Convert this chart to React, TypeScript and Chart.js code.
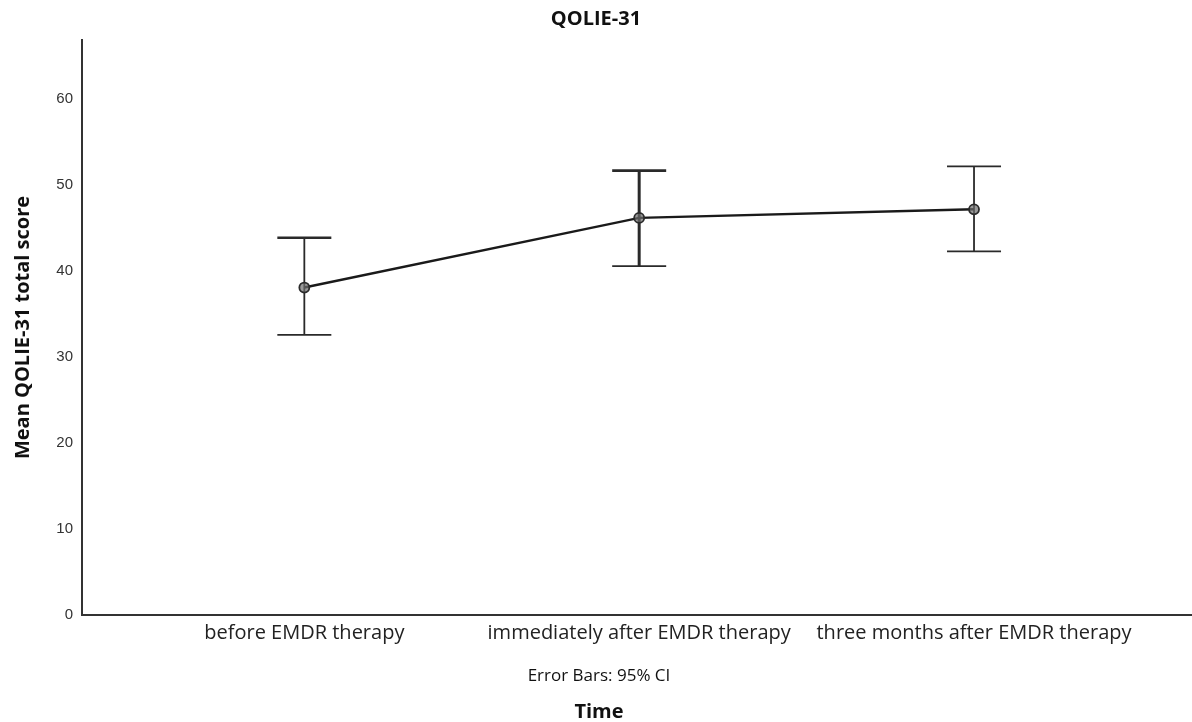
import React, { useEffect, useRef } from "react";
import { Chart, registerables } from "chart.js";

Chart.register(...registerables);

const categories = [
  "before EMDR therapy",
  "immediately after EMDR therapy",
  "three months after EMDR therapy",
];
const positions = [1, 2, 3];
const means = [38.1, 46.2, 47.2];
const ciLower = [32.6, 40.6, 42.3];
const ciUpper = [43.9, 51.7, 52.2];
const yTicks = [0, 10, 20, 30, 40, 50, 60];

const chartTitle = "QOLIE-31";
const yTitle = "Mean QOLIE-31 total score";
const xTitle = "Time";
const footnote = "Error Bars: 95% CI";

const errorBarPlugin = {
  id: "errorBars",
  beforeDatasetsDraw(chart: any) {
    const { ctx, scales } = chart;
    const xs = scales.x;
    const ys = scales.y;
    ctx.save();
    ctx.strokeStyle = "#2a2a2a";
    positions.forEach((p, i) => {
      const x = xs.getPixelForValue(p);
      const yl = ys.getPixelForValue(ciLower[i]);
      const yu = ys.getPixelForValue(ciUpper[i]);
      const half = 27;
      ctx.lineWidth = i === 1 ? 3 : 1.8;
      ctx.beginPath();
      ctx.moveTo(x, yl);
      ctx.lineTo(x, yu);
      ctx.stroke();
      ctx.lineWidth = i === 2 ? 1.8 : 2.6;
      ctx.beginPath();
      ctx.moveTo(x - half, yu);
      ctx.lineTo(x + half, yu);
      ctx.stroke();
      ctx.lineWidth = 1.8;
      ctx.beginPath();
      ctx.moveTo(x - half, yl);
      ctx.lineTo(x + half, yl);
      ctx.stroke();
    });
    ctx.restore();
  },
  afterDraw(chart: any) {
    const { ctx } = chart;
    const cx = chart.width / 2 + 3;
    ctx.save();
    ctx.fillStyle = "#111";
    ctx.textAlign = "center";
    ctx.textBaseline = "middle";
    ctx.font = "17px 'Open Sans'";
    ctx.fillText(footnote, cx, 676);
    ctx.font = "bold 20px 'Open Sans'";
    ctx.fillText(xTitle, cx, 712);
    ctx.restore();
  },
};

export default function App() {
  const ref = useRef<HTMLCanvasElement | null>(null);
  useEffect(() => {
    if (!ref.current) return;
    const chart = new Chart(ref.current, {
      type: "line",
      data: {
        datasets: [
          {
            data: positions.map((p, i) => ({ x: p, y: means[i] })),
            borderColor: "#1a1a1a",
            borderWidth: 2.4,
            pointRadius: 5,
            pointBorderWidth: 1.8,
            pointBorderColor: "#2a2a2a",
            pointBackgroundColor: "rgba(110,110,110,0.7)",
            tension: 0,
          },
        ],
      },
      options: {
        animation: false,
        responsive: true,
        maintainAspectRatio: false,
        layout: { padding: 0, autoPadding: false },
        plugins: {
          legend: { display: false },
          tooltip: { enabled: false },
          title: {
            display: true,
            text: chartTitle,
            color: "#111",
            font: { family: "'Open Sans'", size: 20, weight: "bold" },
            padding: { top: 7.5, bottom: 8.5 },
          },
        },
        scales: {
          x: {
            type: "linear",
            min: 0.336,
            max: 3.651,
            afterBuildTicks: (s: any) => {
              s.ticks = positions.map((v) => ({ value: v }));
            },
            afterFit: (s: any) => {
              s.height = 107;
            },
            grid: { display: false, drawTicks: false },
            border: { color: "#333", width: 2 },
            ticks: {
              padding: 6,
              color: "#222",
              maxRotation: 0,
              autoSkip: false,
              font: { family: "'Open Sans'", size: 20 },
              callback: (v: any) => {
                const i = positions.indexOf(Number(v));
                return i >= 0 ? categories[i] : "";
              },
            },
          },
          y: {
            min: 0,
            max: 66.9,
            afterBuildTicks: (s: any) => {
              s.ticks = yTicks.map((v) => ({ value: v }));
            },
            afterFit: (s: any) => {
              s.width = 82;
            },
            grid: { display: false, drawTicks: false },
            border: { color: "#333", width: 2 },
            ticks: {
              padding: 9,
              color: "#333",
              font: { family: "'Liberation Sans'", size: 15 },
            },
            title: {
              display: true,
              text: yTitle,
              color: "#111",
              font: { family: "'Open Sans'", size: 20, weight: "bold" },
              padding: { top: 11, bottom: 0 },
            },
          },
        },
      },
      plugins: [errorBarPlugin],
    } as any);
    return () => chart.destroy();
  }, []);
  return (
    <div style={{ position: "fixed", left: 0, top: 0, width: 1192, height: 722, background: "#fff" }}>
      <canvas ref={ref} />
    </div>
  );
}
